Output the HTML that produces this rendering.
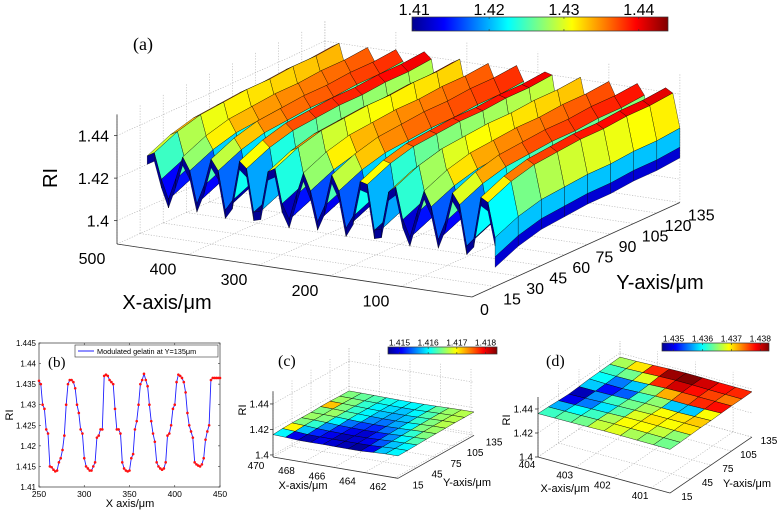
<!DOCTYPE html>
<html><head><meta charset="utf-8"><style>
html,body{margin:0;padding:0;background:#fff;}
svg{display:block;font-family:"Liberation Sans",sans-serif;}
</style></head><body>
<svg id="chart" width="778" height="512" viewBox="0 0 778 512" xmlns="http://www.w3.org/2000/svg">
<defs>
<linearGradient id="jetgrad" x1="0" y1="0" x2="1" y2="0">
<stop offset="0" stop-color="#00008f"/><stop offset="0.125" stop-color="#0000ff"/><stop offset="0.375" stop-color="#00ffff"/><stop offset="0.625" stop-color="#ffff00"/><stop offset="0.875" stop-color="#ff0000"/><stop offset="1" stop-color="#800000"/>
</linearGradient>
</defs>
</svg>
<script>
// ---------- Panel (a) data ----------
const xA = [0,10,20,30,40,50,60,70,80,90,100,110,120,130,140,150,160,170,180,190,200,210,220,230,240,250,260,270,280,290,300,310,320,330,340,350,360,370,380,390,400,410,420,430,440,450,460,470,480,490];
const profA = [1.420,1.436,1.438,1.418,1.414,1.433,1.438,1.424,1.415,1.430,1.437,1.426,1.414,1.422,1.437,1.434,1.416,1.415,1.436,1.437,1.420,1.414,1.431,1.438,1.423,1.415,1.429,1.437,1.426,1.414,1.421,1.437,1.435,1.416,1.415,1.435,1.438,1.419,1.414,1.432,1.437,1.424,1.415,1.430,1.436,1.425,1.415,1.424,1.436,1.434];
const yA = [15,30,45,60,75,90,105,120,135];
const rowOffA = [-0.008,-0.003,0,0.001,0.002,0.002,0.003,0.003,0.004];
const xTicksA = [500,400,300,200,100,0];
const xTickLabelsA = ["500","400","300","200","100"];
const yTicksA = [0,15,30,45,60,75,90,105,120,135];
const zTicksA = [1.4,1.42,1.44];
const cbTicksA = [1.41,1.42,1.43,1.44];
// ---------- Panel (b) data ----------
const xB = [250,252,254,256,258,260,262,264,266,268,270,272,274,276,278,280,282,284,286,288,290,292,294,296,298,300,302,304,306,308,310,312,314,316,318,320,322,324,326,328,330,332,334,336,338,340,342,344,346,348,350,352,354,356,358,360,362,364,366,368,370,372,374,376,378,380,382,384,386,388,390,392,394,396,398,400,402,404,406,408,410,412,414,416,418,420,422,424,426,428,430,432,434,436,438,440,442,444,446,448,450];
const riB = [1.4358,1.435,1.430,1.429,1.424,1.423,1.415,1.4148,1.4142,1.4138,1.414,1.416,1.417,1.419,1.4225,1.430,1.435,1.436,1.436,1.4355,1.434,1.430,1.428,1.424,1.423,1.417,1.415,1.4145,1.414,1.414,1.415,1.416,1.422,1.4225,1.424,1.424,1.437,1.4373,1.437,1.436,1.4355,1.435,1.429,1.424,1.424,1.423,1.416,1.4145,1.414,1.4138,1.414,1.417,1.418,1.424,1.426,1.430,1.435,1.436,1.4375,1.436,1.4345,1.430,1.426,1.423,1.421,1.416,1.415,1.4145,1.4142,1.4145,1.416,1.4225,1.423,1.425,1.429,1.430,1.4355,1.4373,1.437,1.4365,1.4355,1.433,1.428,1.425,1.4235,1.422,1.416,1.4155,1.4152,1.415,1.4155,1.417,1.4215,1.4235,1.425,1.436,1.4365,1.4365,1.4365,1.4365,1.4365];
const xTicksB = [250,300,350,400,450];
const yTicksB = [1.41,1.415,1.42,1.425,1.43,1.435,1.44,1.445];
// ---------- Panel (c) data (rows: Y front->back, cols: X 470 -> 462) ----------
const cVals = [
[1.4160,1.4150,1.4148,1.4150,1.4149,1.4148,1.4147,1.4150,1.4158,1.4160],
[1.4170,1.4158,1.4152,1.4150,1.4148,1.4149,1.4150,1.4154,1.4158,1.4160],
[1.4165,1.4162,1.4156,1.4152,1.4150,1.4149,1.4152,1.4156,1.4160,1.4163],
[1.4166,1.4165,1.4160,1.4155,1.4153,1.4152,1.4155,1.4158,1.4162,1.4165],
[1.4165,1.4166,1.4163,1.4160,1.4156,1.4155,1.4157,1.4160,1.4165,1.4166],
[1.4172,1.4165,1.4162,1.4160,1.4158,1.4157,1.4158,1.4162,1.4165,1.4167],
[1.4166,1.4165,1.4162,1.4160,1.4159,1.4158,1.4160,1.4163,1.4166,1.4167],
[1.4165,1.4164,1.4163,1.4161,1.4160,1.4160,1.4161,1.4164,1.4166,1.4167]];
const xTicksC = [470,468,466,464,462];
const yTicksC = [15,45,75,105,135];
const zTicksC = [1.4,1.42,1.44];
const cbTicksC = [1.415,1.416,1.417,1.418];
// ---------- Panel (d) data ----------
const dVals = [
[1.4362,1.4363,1.4364,1.4367,1.4368,1.4366,1.4365,1.4364],
[1.4357,1.4360,1.4362,1.4366,1.4369,1.4369,1.4367,1.4365],
[1.4350,1.4355,1.4359,1.4363,1.4368,1.4370,1.4369,1.4370],
[1.4348,1.4356,1.4362,1.4364,1.4366,1.4369,1.4370,1.4371],
[1.4358,1.4351,1.4354,1.4362,1.4365,1.4358,1.4358,1.4369],
[1.4360,1.4355,1.4358,1.4365,1.4372,1.4375,1.4377,1.4378],
[1.4362,1.4364,1.4368,1.4377,1.4380,1.4378,1.4376,1.4374],
[1.4366,1.4370,1.4377,1.4382,1.4383,1.4380,1.4378,1.4377]];
const xTicksD = [404,403,402,401];
const yTicksD = [15,45,75,105,135];
const zTicksD = [1.4,1.42,1.44];
const cbTicksD = [1.435,1.436,1.437,1.438];

const svg = document.getElementById('chart');
const NS = 'http://www.w3.org/2000/svg';
function mk(tag, attrs, parent){ const e=document.createElementNS(NS,tag); for(const k in attrs) e.setAttribute(k,attrs[k]); (parent||svg).appendChild(e); return e; }
function jet(v, lo, hi){
  let t=(v-lo)/(hi-lo); t=Math.max(0,Math.min(1,t));
  const c=x=>Math.round(255*Math.max(0,Math.min(1,x)));
  return 'rgb('+c(1.5-Math.abs(4*t-3))+','+c(1.5-Math.abs(4*t-2))+','+c(1.5-Math.abs(4*t-1))+')';
}
function txt(s,x,y,size,anchor,parent,fam){ const t=mk('text',{x:x,y:y,'font-size':size,'text-anchor':anchor||'middle',fill:'#000'},parent); if(fam) t.setAttribute('font-family',fam); t.textContent=s; return t; }
function pts(a){ return a.map(p=>p[0].toFixed(1)+','+p[1].toFixed(1)).join(' '); }

function box(P, g, c){
  const grid=mk('g',{stroke:'#b0b0b0','stroke-width':0.6,'stroke-dasharray':'1.2,1.5',fill:'none'},g);
  
  
  const L=(a,b)=>mk('line',{x1:a[0],y1:a[1],x2:b[0],y2:b[1]},grid);
  c.xt.forEach(x=>{ L(P(x,c.y0,c.zF),P(x,c.y1,c.zF)); L(P(x,c.y1,c.zF),P(x,c.y1,c.zT)); });
  c.yt.forEach(y=>{ L(P(c.xL,y,c.zF),P(c.xR,y,c.zF)); L(P(c.xL,y,c.zF),P(c.xL,y,c.zT)); });
  c.zt.forEach(z=>{ L(P(c.xL,c.y0,z),P(c.xL,c.y1,z)); L(P(c.xL,c.y1,z),P(c.xR,c.y1,z)); });
  const ax=mk('g',{stroke:'#333','stroke-width':0.8,fill:'none'},g);
  
  
  const A=(a,b)=>mk('line',{x1:a[0],y1:a[1],x2:b[0],y2:b[1]},ax);
  A(P(c.xL,c.y0,c.zF),P(c.xR,c.y0,c.zF));
  A(P(c.xR,c.y0,c.zF),P(c.xR,c.y1,c.zF));
  A(P(c.xL,c.y0,c.zF),P(c.xL,c.y0,c.zT));
  c.zt.forEach(z=>{ const p=P(c.xL,c.y0,z); A([p[0]-3,p[1]],p); });
}
function surface(P, g, X, Y, Z, col, name, sw){
  const quads=[];
  for(let j=0;j<Y.length-1;j++) for(let i=0;i<X.length-1;i++){
    const v=[[X[i],Y[j],Z[j][i]],[X[i+1],Y[j],Z[j][i+1]],[X[i+1],Y[j+1],Z[j+1][i+1]],[X[i],Y[j+1],Z[j+1][i]]];
    const fl=P((X[i]+X[i+1])/2,(Y[j]+Y[j+1])/2,1.4);
    quads.push({v:v,d:fl[1],c:col(i,j,v)});
  }
  quads.sort((a,b)=>a.d-b.d);
  quads.forEach(q=>{
    const p=mk('polygon',{points:pts(q.v.map(v=>P(v[0],v[1],v[2]))),fill:q.c,stroke:'#000','stroke-width':sw,'stroke-linejoin':'round'},g);
    
    
  });
}
function colorbar(x,y,w,h,lo,hi,ticks,fs,name,labY){
  const g=mk('g',{});
  
  
  mk('rect',{x:x,y:y,width:w,height:h,fill:'url(#jetgrad)',stroke:'#333','stroke-width':0.7},g);
  ticks.forEach(t=>{ const px=x+(t-lo)/(hi-lo)*w; mk('line',{x1:px,y1:y,x2:px,y2:y+2,stroke:'#333','stroke-width':0.6},g); mk('line',{x1:px,y1:y+h,x2:px,y2:y+h-2,stroke:'#333','stroke-width':0.6},g);
    const tl=txt(String(t),px,labY,fs,'middle',g);   });
}

// ================= Panel (a) =================
(function(){
  const zF=1.389, zT=1.45;
  const P=(X,Y,Z)=>[117+(500-X)*0.71+Y*1.54, 244+(500-X)*0.106-Y*0.70-(Z-zF)*2125];
  const g=mk('g',{});  
  box(P,g,{name:'panel-a',xL:500,xR:0,y0:0,y1:135,zF:zF,zT:zT,xt:xTicksA,yt:yTicksA,zt:zTicksA});
  const Z=yA.map((y,j)=>xA.map((x,i)=>profA[i]+rowOffA[j]));
  const lo=1.4097, hi=1.4439;
  surface(P,g,xA,yA,Z,(i,j,v)=>jet((v[0][2]+v[1][2]+v[2][2]+v[3][2])/4,lo,hi),'surface-a-patch',0.35);
  const y0=yA[0];
  // right side (X=0) wall: cyan upper, blue lower
  for(let j=0;j<yA.length-1;j++){
    const za=Z[j][0], zb=Z[j+1][0];
    let q=[P(0,yA[j],za),P(0,yA[j+1],zb),P(0,yA[j+1],zb-0.009),P(0,yA[j],za-0.009)];
    let p=mk('polygon',{points:pts(q),fill:jet(1.4205,lo,hi),stroke:'#000','stroke-width':0.35},g);
     
    q=[P(0,yA[j],za-0.009),P(0,yA[j+1],zb-0.009),P(0,yA[j+1],zb-0.014),P(0,yA[j],za-0.014)];
    p=mk('polygon',{points:pts(q),fill:jet(1.4125,lo,hi),stroke:'#000','stroke-width':0.3},g);
     
  }
  // thin front skirt (Y = first row)
  for(let i=0;i<xA.length-1;i++){
    const q=[P(xA[i],y0,Z[0][i]),P(xA[i+1],y0,Z[0][i+1]),P(xA[i+1],y0,Z[0][i+1]-0.004),P(xA[i],y0,Z[0][i]-0.004)];
    const p=mk('polygon',{points:pts(q),fill:jet(1.4105,lo,hi),stroke:'#000','stroke-width':0.3},g);
     
  }
  xTickLabelsA.forEach((s,k)=>{ const p=P(xTicksA[k],0,zF); const t=txt(s,p[0]-25,p[1]+20,16,'middle',g);   });
  yTicksA.forEach(y=>{ const p=P(0,y,zF); const t=txt(String(y),p[0]+8,p[1]+18,16,'start',g);   });
  zTicksA.forEach(z=>{ const p=P(500,0,z); const t=txt(String(z),p[0]-8,p[1]+6,16,'end',g);   });
  let t=txt('X-axis/μm',167,309,20,'middle',g);  
  t=txt('Y-axis/μm',660,289,20,'middle',g);  
  t=txt('RI',57,178,20,'middle',g); t.setAttribute('transform','rotate(-90 57 178)');  
  t=txt('(a)',133,50,18,'start',g,'"Liberation Serif",serif');  
  colorbar(412,17,256,14,lo,hi,cbTicksA,16,'colorbar-a',15);
})();

// ================= Panel (b) =================
(function(){
  const L=39,R=220,T=343,B=487, x0=250,x1=450,y0=1.41,y1=1.445;
  const sx=x=>L+(x-x0)/(x1-x0)*(R-L), sy=y=>B-(y-y0)/(y1-y0)*(B-T);
  const g=mk('g',{});  
  const fr=mk('rect',{x:L,y:T,width:R-L,height:B-T,fill:'#fff',stroke:'#333','stroke-width':0.7},g);
   
  xTicksB.forEach(x=>{ mk('line',{x1:sx(x),y1:B,x2:sx(x),y2:B-2,stroke:'#333','stroke-width':0.6},g); mk('line',{x1:sx(x),y1:T,x2:sx(x),y2:T+2,stroke:'#333','stroke-width':0.6},g);
    const t=txt(String(x),sx(x),B+10,8.5,'middle',g);   });
  yTicksB.forEach(y=>{ mk('line',{x1:L,y1:sy(y),x2:L+2,y2:sy(y),stroke:'#333','stroke-width':0.6},g); mk('line',{x1:R,y1:sy(y),x2:R-2,y2:sy(y),stroke:'#333','stroke-width':0.6},g);
    const t=txt(String(y),L-3,sy(y)+3,8,'end',g);   });
  const line=mk('polyline',{points:pts(xB.map((x,i)=>[sx(x),sy(riB[i])])),fill:'none',stroke:'#1f1fff','stroke-width':0.9},g);
   
  xB.forEach((x,i)=>{ const d=mk('circle',{cx:sx(x),cy:sy(riB[i]),r:1.3,fill:'#ff1010'},g);
      });
  const lg=mk('g',{},g);  
  mk('rect',{x:75,y:345,width:143,height:12,fill:'#fff',stroke:'#333','stroke-width':0.6},lg);
  mk('line',{x1:78,y1:351,x2:94,y2:351,stroke:'#1f1fff','stroke-width':1},lg);
  txt('Modulated gelatin at Y=135μm',97,354,7.3,'start',lg);
  let t=txt('(b)',48,367,15,'start',g,'"Liberation Serif",serif');  
  t=txt('X axis/μm',130,507,11,'middle',g);  
  t=txt('RI',13,415,11,'middle',g); t.setAttribute('transform','rotate(-90 13 415)');  
})();

function smallPanel(cfg, vals){
  const P=cfg.P;
  const g=mk('g',{});  
  box(P,g,{name:cfg.name,xL:cfg.xL,xR:cfg.xR,y0:cfg.y0,y1:cfg.y1,zF:cfg.zF,zT:cfg.zT,xt:cfg.xt,yt:cfg.yt,zt:cfg.zt});
  const nr=vals.length, nc=vals[0].length;
  const X=[...Array(nc+1).keys()].map(i=>cfg.xL+(cfg.xR-cfg.xL)*i/nc);
  const Y=[...Array(nr+1).keys()].map(j=>cfg.y0+(cfg.y1-cfg.y0)*j/nr);
  const Z=Y.map((_,j)=>X.map((_,i)=>{ let s=0,n=0; for(let a=j-1;a<=j;a++) for(let b=i-1;b<=i;b++){ if(a>=0&&a<nr&&b>=0&&b<nc){s+=vals[a][b];n++;} } return s/n; }));
  surface(P,g,X,Y,Z,(i,j)=>jet(vals[j][i],cfg.lo,cfg.hi),cfg.name+'-cell',0.4);
  cfg.xt.forEach(x=>{ const p=P(x,cfg.y0,cfg.zF); const t=txt(String(x),p[0]+cfg.xo[0],p[1]+cfg.xo[1],10,'middle',g);   });
  cfg.yt.forEach(y=>{ const p=P(cfg.xR,y,cfg.zF); const t=txt(String(y),p[0]+cfg.yo[0],p[1]+cfg.yo[1],10,'middle',g);   });
  cfg.zt.forEach(z=>{ const p=P(cfg.xL,cfg.y0,z); const t=txt(String(z),cfg.zx,p[1]+3.5,10,'end',g);   });
  let t=txt('X-axis/μm',cfg.xtitle[0],cfg.xtitle[1],11,'middle',g);  
  t=txt('Y-axis/μm',cfg.ytitle[0],cfg.ytitle[1],11,'middle',g);  
  t=txt('RI',cfg.ri[0],cfg.ri[1],11,'middle',g); t.setAttribute('transform','rotate(-90 '+cfg.ri[0]+' '+cfg.ri[1]+')');  
  t=txt(cfg.label,cfg.lab[0],cfg.lab[1],16,'start',g,'"Liberation Serif",serif');  
  colorbar(cfg.cb[0],cfg.cb[1],cfg.cb[2],cfg.cb[3],cfg.lo,cfg.hi,cfg.cbt,8.5,cfg.name+'-colorbar',cfg.cb[1]-1.5);
}
smallPanel({name:'panel-c',label:'(c)',lab:[278,366],
  P:(X,Y,Z)=>[273+(470-X)*15.25+(Y-15)*76/120, 457+(470-X)*2.6-(Y-15)*43/120-(Z-1.3984)*1275],
  xL:470,xR:461.8,y0:15,y1:135,zF:1.3984,zT:1.45,xt:xTicksC,yt:yTicksC,zt:zTicksC,
  lo:1.4146,hi:1.4184,xo:[-17,12],yo:[20,10],zx:269,xtitle:[303,489],ytitle:[467,486],ri:[246,410],
  cb:[388,347,109,7],cbt:cbTicksC},cVals);
smallPanel({name:'panel-d',label:'(d)',lab:[546,366],
  P:(X,Y,Z)=>[538+(404-X)*37.7+(Y-15)*82/120, 457+(404-X)*10.3-(Y-15)*56/120-(Z-1.4)*1200],
  xL:404,xR:400.5,y0:15,y1:135,zF:1.4,zT:1.45,xt:xTicksD,yt:yTicksD,zt:zTicksD,
  lo:1.4346,hi:1.4383,xo:[-11,11],yo:[17,7],zx:533,xtitle:[565,492],ytitle:[747,487],ri:[510,420],
  cb:[662,343,107,8],cbt:cbTicksD},dVals);
</script>
</body></html>
